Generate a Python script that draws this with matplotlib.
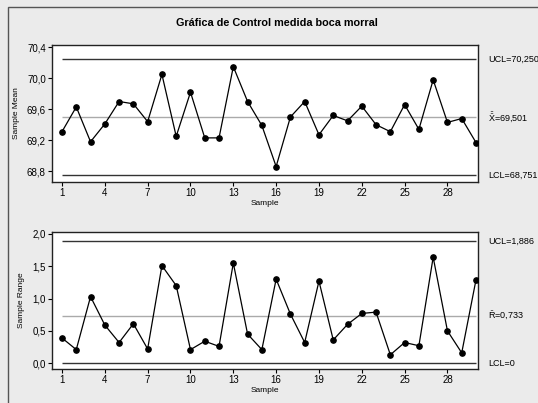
import numpy as np
from matplotlib import pyplot as plt, patches, transforms

# sample numbers and chart values
samples = np.arange(1, 31)
sample_means = [69.31, 69.63, 69.18, 69.41, 69.70, 69.67, 69.44, 70.05, 69.25, 69.82,
                69.23, 69.23, 70.15, 69.70, 69.39, 68.86, 69.50, 69.70, 69.27, 69.52,
                69.45, 69.64, 69.40, 69.31, 69.66, 69.34, 69.98, 69.43, 69.48, 69.17]
sample_ranges = [0.39, 0.21, 1.03, 0.59, 0.32, 0.61, 0.22, 1.51, 1.20, 0.21,
                 0.34, 0.26, 1.55, 0.45, 0.21, 1.30, 0.76, 0.32, 1.27, 0.36,
                 0.60, 0.77, 0.79, 0.13, 0.32, 0.27, 1.64, 0.50, 0.16, 1.29]
mean_limits = [70.250, 69.501, 68.751]   # UCL, centre, LCL
range_limits = [1.886, 0.733, 0.0]
mean_labels = ['UCL=70,250', r'$\bar{\bar{\mathrm{X}}}$=69,501', 'LCL=68,751']
range_labels = ['UCL=1,886', r'$\bar{\mathrm{R}}$=0,733', 'LCL=0']
x_ticks = np.arange(1, 30, 3)
mean_ticks = [68.8, 69.2, 69.6, 70.0, 70.4]
range_ticks = [0.0, 0.5, 1.0, 1.5, 2.0]

plt.rcParams['font.family'] = ['Liberation Sans', 'DejaVu Sans']
plt.rcParams['mathtext.fontset'] = 'custom'
plt.rcParams['mathtext.rm'] = 'Liberation Sans'

fig = plt.figure(figsize=(5.38, 4.03), dpi=100)
fig.patch.set_facecolor('#ebebeb')

# outer frame like the Minitab window
fig.add_artist(patches.Rectangle((8 / 538, -0.01), 1.0, (403 - 7) / 403 + 0.01,
                                 transform=fig.transFigure, fill=False,
                                 edgecolor='#555555', linewidth=1.0))

fig.text(277 / 538, 1 - 23 / 403, 'Gráfica de Control medida boca morral',
         ha='center', va='center', fontsize=7.8, fontweight='bold')

ax1 = fig.add_axes([52 / 538, (403 - 182) / 403, 426 / 538, 137 / 403])
ax2 = fig.add_axes([52 / 538, (403 - 369) / 403, 426 / 538, 137 / 403])


def draw(ax, values, limits, labels, yticks, ylim, ylabel):
    ax.set_facecolor('white')
    ax.hlines(limits[0], 1, 30, color='#333333', linewidth=1.0)
    ax.hlines(limits[1], 1, 30, color='#aaaaaa', linewidth=1.0)
    ax.hlines(limits[2], 1, 30, color='#333333', linewidth=1.0)
    ax.plot(samples, values, color='black', linewidth=0.9, marker='o',
            markersize=3.8, zorder=3)
    ax.set_xlim(0.3, 30.14)
    ax.set_ylim(*ylim)
    ax.set_xticks(x_ticks)
    ax.set_yticks(yticks)
    ax.set_yticklabels([f'{t:.1f}'.replace('.', ',') for t in yticks])
    ax.tick_params(direction='out', length=3, width=0.8, labelsize=7, pad=1.5)
    for s in ax.spines.values():
        s.set_linewidth(1.0)
        s.set_color('#222222')
    ax.set_xlabel('Sample', fontsize=6, labelpad=1)
    ax.set_ylabel(ylabel, fontsize=6, labelpad=5)
    trans = transforms.blended_transform_factory(ax.transAxes, ax.transData)
    for lim, lab in zip(limits, labels):
        ax.text(1.024, lim, lab, transform=trans, ha='left', va='center',
                fontsize=6.5)


draw(ax1, sample_means, mean_limits, mean_labels, mean_ticks, (68.66, 70.43), 'Sample Mean')
draw(ax2, sample_ranges, range_limits, range_labels, range_ticks, (-0.09, 2.03), 'Sample Range')

fig.savefig('out.png', dpi=100, facecolor=fig.get_facecolor())
